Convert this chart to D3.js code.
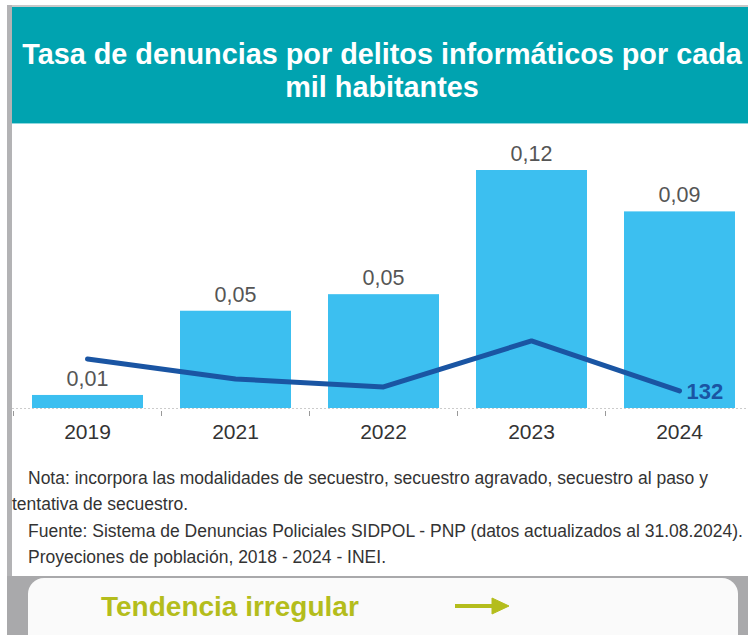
<!DOCTYPE html>
<html>
<head>
<meta charset="utf-8">
<script src="https://cdn.jsdelivr.net/npm/d3@7"></script>
<style>
  body { margin: 0; background: #fff; }
  svg { display: block; font-family: "Liberation Sans", Arial, sans-serif; }
</style>
</head>
<body>
<div id="chart"></div>
<script>
// data
const years = ["2019", "2021", "2022", "2023", "2024"];
const rates = [0.0063, 0.047, 0.055, 0.115, 0.095];
const rateLabels = ["0,01", "0,05", "0,05", "0,12", "0,09"];
const counts = [380, 225, 163, 520, 132];   // line series, only the last one is labelled
const titleLines = ["Tasa de denuncias por delitos informáticos por cada", "mil habitantes"];
const notes = [
  {text: "Nota: incorpora las modalidades de secuestro, secuestro agravado, secuestro al paso y", indent: true},
  {text: "tentativa de secuestro.", indent: false},
  {text: "Fuente: Sistema de Denuncias Policiales SIDPOL - PNP (datos actualizados al 31.08.2024).", indent: true},
  {text: "Proyeciones de población, 2018 - 2024 - INEI.", indent: true}
];
const trendLabel = "Tendencia irregular";

const W = 748, H = 635;
const baseY = 408;

const svg = d3.select("#chart").append("svg")
    .attr("width", W)
    .attr("height", H);

// frame: left gray strip, top hairline
svg.append("rect").attr("x", 0).attr("y", 0).attr("width", W).attr("height", H).attr("fill", "#fff");
svg.append("rect").attr("x", 7).attr("y", 5).attr("width", W - 7).attr("height", 2).attr("fill", "#c8c8c8");
svg.append("rect").attr("x", 7).attr("y", 5).attr("width", 5).attr("height", H - 5).attr("fill", "#b3b3b5");

// header
svg.append("rect").attr("x", 12).attr("y", 7).attr("width", W - 12).attr("height", 117).attr("fill", "#00a3b0");
svg.append("rect").attr("x", 12).attr("y", 123).attr("width", W - 12).attr("height", 1).attr("fill", "#8fd8de");

svg.append("g")
    .selectAll("text")
    .data(titleLines)
    .join("text")
      .attr("x", 382)
      .attr("y", (d, i) => 64 + i * 33)
      .attr("text-anchor", "middle")
      .attr("fill", "#fff")
      .attr("font-size", 28.8)
      .attr("font-weight", "bold")
      .text(d => d);

// scales
const x = d3.scaleBand()
    .domain(years)
    .range([13.5, 753.5])
    .paddingInner(0.25)
    .paddingOuter(0.125);

const y = d3.scaleLinear()
    .domain([0, 0.115])
    .range([baseY, 170]);

const y2 = d3.scaleLinear()
    .domain([0, 1000])
    .range([baseY, 279]);

// bars
svg.append("g")
    .selectAll("rect")
    .data(years)
    .join("rect")
      .attr("x", d => x(d))
      .attr("width", x.bandwidth())
      .attr("y", (d, i) => y(rates[i]))
      .attr("height", (d, i) => baseY - y(rates[i]))
      .attr("fill", "#3cbff0");

svg.append("g")
    .selectAll("text")
    .data(years)
    .join("text")
      .attr("x", d => x(d) + x.bandwidth() / 2)
      .attr("y", (d, i) => y(rates[i]) - 9)
      .attr("text-anchor", "middle")
      .attr("font-size", 21.5)
      .attr("fill", "#555")
      .text((d, i) => rateLabels[i]);

// baseline (dotted) and ticks at band edges
svg.append("line")
    .attr("x1", 12).attr("x2", W)
    .attr("y1", baseY + 0.5).attr("y2", baseY + 0.5)
    .attr("stroke", "#ccc")
    .attr("stroke-dasharray", "2,2");

const step = x.step();
const edges = years.map(d => x(d) - step * 0.125).concat([x(years[years.length - 1]) + x.bandwidth() + step * 0.125]);
svg.append("g")
    .selectAll("line")
    .data(edges)
    .join("line")
      .attr("x1", d => d).attr("x2", d => d)
      .attr("y1", baseY + 3).attr("y2", baseY + 8)
      .attr("stroke", "#999");

const xAxis = svg.append("g")
    .attr("transform", `translate(0,${baseY})`)
    .call(d3.axisBottom(x).tickSize(0).tickPadding(16));
xAxis.select(".domain").remove();
xAxis.selectAll("text")
    .attr("font-family", "\"Liberation Sans\", Arial, sans-serif")
    .attr("font-size", 21)
    .attr("fill", "#333");

// line series
const line = d3.line()
    .x((d, i) => x(years[i]) + x.bandwidth() / 2)
    .y(d => y2(d));

svg.append("path")
    .datum(counts)
    .attr("d", line)
    .attr("fill", "none")
    .attr("stroke", "#1a55a3")
    .attr("stroke-width", 5)
    .attr("stroke-linecap", "round")
    .attr("stroke-linejoin", "round");

const last = counts.length - 1;
svg.append("text")
    .attr("x", x(years[last]) + x.bandwidth() / 2 + 7)
    .attr("y", y2(counts[last]) + 8)
    .attr("font-size", 22)
    .attr("font-weight", "bold")
    .attr("fill", "#1a55a3")
    .text(counts[last]);

// notes
svg.append("g")
    .selectAll("text")
    .data(notes)
    .join("text")
      .attr("x", d => d.indent ? 28 : 12)
      .attr("y", (d, i) => 484 + i * 26.3)
      .attr("font-size", 17.5)
      .attr("fill", "#333")
      .text(d => d.text);

// bottom trend box
svg.append("rect").attr("x", 7).attr("y", 576).attr("width", W - 7).attr("height", H - 576).attr("fill", "#a9a9ab");
svg.append("rect")
    .attr("x", 28).attr("y", 578)
    .attr("width", 710).attr("height", 80)
    .attr("rx", 16)
    .attr("fill", "#fafafa");

svg.append("text")
    .attr("x", 101)
    .attr("y", 616)
    .attr("font-size", 28)
    .attr("font-weight", "bold")
    .attr("fill", "#b4bd1c")
    .text(trendLabel);

const arrow = svg.append("g").attr("fill", "#b4bd1c").attr("stroke", "#b4bd1c");
arrow.append("line")
    .attr("x1", 455).attr("x2", 496)
    .attr("y1", 606).attr("y2", 606)
    .attr("stroke-width", 4);
arrow.append("path")
    .attr("d", "M492,598 L509,606 L492,614 Z")
    .attr("stroke-width", 1);
</script>
</body>
</html>
